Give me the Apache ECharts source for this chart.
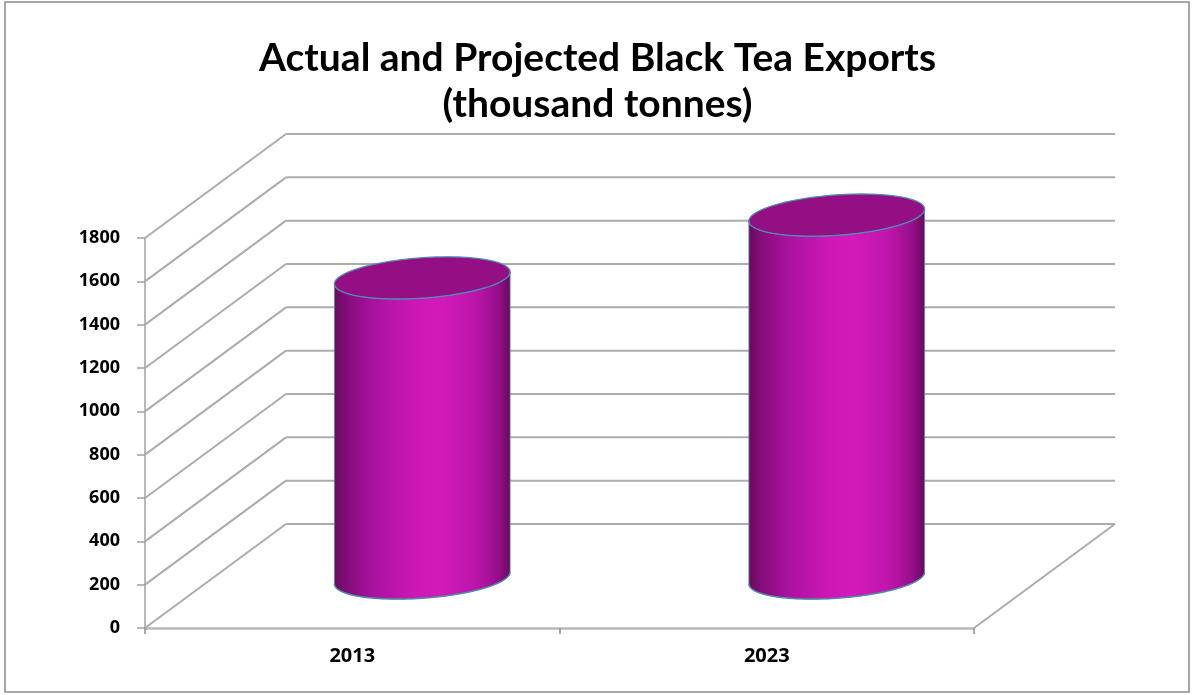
<!DOCTYPE html>
<html>
<head>
<meta charset="utf-8">
<title>Actual and Projected Black Tea Exports</title>
<script src="https://cdn.jsdelivr.net/npm/echarts@6/dist/echarts.min.js"></script>
<style>
  html, body { margin: 0; padding: 0; background: #ffffff; }
  #chart { width: 1195px; height: 695px; }
</style>
</head>
<body>
<div id="chart"></div>
<script>
// Categories and values (thousand tonnes)
const years = ['2013', '2023'];
const exportsKt = [1385, 1675];
const yTicks = [0, 200, 400, 600, 800, 1000, 1200, 1400, 1600, 1800];

// Oblique depth of the 3D box (back wall offset) and of the cylinder row
const depth = [141, -104];
const barShift = [70, -50];

const chart = echarts.init(document.getElementById('chart'));

function ellipsePoint(cx, cy, R, T, H, theta) {
  return [cx + R * Math.cos(theta), cy - T * Math.cos(theta) + H * Math.sin(theta)];
}

function ellipseArc(cx, cy, R, T, H, from, to, n) {
  const pts = [];
  for (let i = 0; i <= n; i++) {
    const t = from + (to - from) * i / n;
    pts.push(ellipsePoint(cx, cy, R, T, H, t));
  }
  return pts;
}

// Walls: left side wall diagonals and back wall gridlines for every tick
function renderWalls(params, api) {
  const cs = params.coordSys;
  const v = api.value(0);
  const y = api.coord([0, v])[1];
  const x0 = cs.x, x1 = cs.x + cs.width;
  const lineStyle = { stroke: '#acacac', lineWidth: 2 };
  const children = [
    { type: 'line', shape: { x1: x0, y1: y, x2: x0 + depth[0], y2: y + depth[1] }, style: lineStyle },
    { type: 'line', shape: { x1: x0 + depth[0], y1: y + depth[1], x2: x1 + depth[0], y2: y + depth[1] }, style: lineStyle }
  ];
  if (v === 0) {
    children.push({ type: 'line', shape: { x1: x1, y1: y, x2: x1 + depth[0], y2: y + depth[1] }, style: lineStyle });
  }
  return { type: 'group', children: children, silent: true };
}

// Cylinders standing on the floor at mid depth
function renderCylinder(params, api) {
  const cat = api.value(0);
  const val = api.value(1);
  const base = api.coord([cat, 0]);
  const top = api.coord([cat, val]);
  const band = api.size([1, 0])[0];
  const R = band * 0.212;
  const T = R * 0.068;
  const H = R * 0.23;
  const cx = base[0] + barShift[0];
  const by = base[1] + barShift[1];
  const ty = top[1] + barShift[1];

  const side = [];
  side.push([cx - R, ty + T]);
  side.push([cx - R, by + T]);
  ellipseArc(cx, by, R, T, H, Math.PI, 0, 60).forEach(p => side.push(p));
  side.push([cx + R, ty - T]);
  ellipseArc(cx, ty, R, T, H, 0, Math.PI, 60).forEach(p => side.push(p));

  const topEllipse = ellipseArc(cx, ty, R, T, H, 0, Math.PI * 2, 120);
  const bottomEdge = ellipseArc(cx, by, R, T, H, Math.PI, 0, 60);

  return {
    type: 'group',
    children: [
      {
        type: 'polygon',
        shape: { points: side },
        style: {
          fill: {
            type: 'linear', x: 0, y: 0, x2: 1, y2: 0,
            colorStops: [
              { offset: 0, color: '#680a5d' },
              { offset: 0.08, color: '#860d7c' },
              { offset: 0.22, color: '#a8129e' },
              { offset: 0.45, color: '#cc17b5' },
              { offset: 0.6, color: '#d21aba' },
              { offset: 0.8, color: '#bd15ab' },
              { offset: 0.93, color: '#950f8b' },
              { offset: 1, color: '#650a5a' }
            ]
          },
          stroke: '#5c8fb3',
          lineWidth: 0.8
        }
      },
      {
        type: 'polyline',
        shape: { points: bottomEdge },
        style: { stroke: '#4f89ad', lineWidth: 1.4, fill: null }
      },
      {
        type: 'polygon',
        shape: { points: topEllipse },
        style: { fill: '#930f83', stroke: '#4f8db3', lineWidth: 1.3 }
      }
    ]
  };
}

const option = {
  backgroundColor: '#ffffff',
  animation: false,
  title: {
    text: 'Actual and Projected Black Tea Exports\n(thousand tonnes)',
    left: 'center',
    top: 30,
    textStyle: {
      fontFamily: 'Lato, sans-serif',
      fontSize: 39,
      fontWeight: 'bold',
      color: '#000000',
      lineHeight: 46
    }
  },
  graphic: [
    {
      type: 'rect',
      shape: { x: 5, y: 2, width: 1184, height: 690 },
      style: { fill: null, stroke: '#8a8a8a', lineWidth: 1.5 },
      silent: true,
      z: -1
    }
  ],
  grid: { left: 145, right: 221, top: 238, bottom: 67 },
  xAxis: {
    type: 'category',
    data: years,
    boundaryGap: true,
    axisLine: { show: true, lineStyle: { color: '#b9b9b9', width: 2.5 } },
    axisTick: { show: true, length: 6, lineStyle: { color: '#8f8f8f', width: 1.5 } },
    axisLabel: {
      margin: 18,
      fontFamily: "'Open Sans', sans-serif",
      fontSize: 20,
      fontWeight: 'bold',
      color: '#000000'
    },
    splitLine: { show: false }
  },
  yAxis: {
    type: 'value',
    min: 0,
    max: 1800,
    interval: 200,
    axisLine: { show: true, lineStyle: { color: '#b9b9b9', width: 2 } },
    axisTick: { show: true, length: 8, lineStyle: { color: '#a0a0a0', width: 1.5 } },
    axisLabel: {
      margin: 25,
      formatter: v => String(v),
      fontFamily: "'Open Sans', sans-serif",
      fontSize: 18,
      fontWeight: 'bold',
      color: '#000000'
    },
    splitLine: { show: false }
  },
  series: [
    {
      type: 'custom',
      name: 'walls',
      renderItem: renderWalls,
      data: yTicks.map(v => [v]),
      encode: { y: 0 },
      z: 1,
      silent: true,
      clip: false
    },
    {
      type: 'custom',
      name: 'Black tea exports',
      renderItem: renderCylinder,
      data: years.map((y, i) => [i, exportsKt[i]]),
      encode: { x: 0, y: 1 },
      z: 3,
      clip: false
    }
  ]
};

chart.setOption(option);
</script>
</body>
</html>
